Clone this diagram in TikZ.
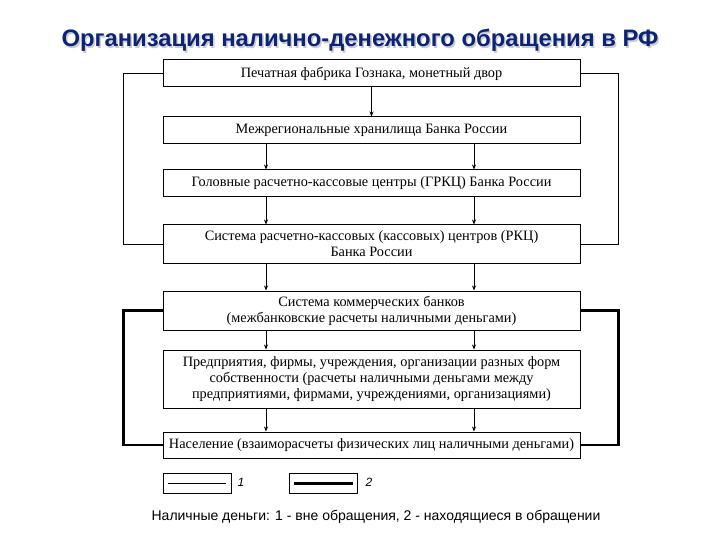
\documentclass[tikz,border=0pt]{standalone}
\usepackage{fontspec}
\setmainfont{Liberation Serif}
\setsansfont{Liberation Sans}
\usetikzlibrary{arrows.meta}
\definecolor{titleblue}{RGB}{12,36,120}
\begin{document}
\begin{tikzpicture}[x=1pt,y=-1pt,thick,
		box node/.style={draw,line width=1pt,minimum width=417pt,align=center,inner sep=2pt,font=\fontsize{14.3}{16}\selectfont},
		key node/.style={draw,line width=0.9pt,minimum width=68pt,minimum height=20pt},
		thin link/.style={line width=1pt},
		thick link/.style={line width=2.1pt},
		arr/.style={line width=0.9pt,-{Stealth[length=5pt,width=4pt]}}]
				\useasboundingbox (0,0) rectangle (720,540);
				\node[font=\sffamily\bfseries\fontsize{23.8}{27}\selectfont,text=gray!40] at (361.5,42) (shd) {Организация налично-денежного обращения в РФ};
				\node[font=\sffamily\bfseries\fontsize{23.8}{27}\selectfont,text=titleblue] at (360,40.5) (title) {Организация налично-денежного обращения в РФ};

				\node[box node,minimum height=27pt] at (371.5,73.5) (gz) {Печатная фабрика Гознака, монетный двор};
				\node[box node,minimum height=27pt] at (371.5,130.5) (mh) {Межрегиональные хранилища Банка России};
				\node[box node,minimum height=27pt] at (371.5,183.5) (grkc) {Головные расчетно-кассовые центры (ГРКЦ) Банка России};
				\node[box node,minimum height=38pt] at (371.5,244) (rkc) {Система расчетно-кассовых (кассовых) центров (РКЦ)\\Банка России};
				\node[box node,minimum height=39pt] at (371.5,310.5) (kb) {Система коммерческих банков\\(межбанковские расчеты наличными деньгами)};
				\node[box node,minimum height=58pt] at (371.5,379) (pr) {Предприятия, фирмы, учреждения, организации разных форм\\собственности (расчеты наличными деньгами между\\предприятиями, фирмами, учреждениями, организациями)};
				\node[box node,minimum height=26pt] at (371.5,445) (nas) {Население (взаиморасчеты физических лиц наличными деньгами)};

				\coordinate (cl) at (266,0);
				\coordinate (cr) at (474,0);

				\draw[arr] (gz) -- (mh);
				\foreach \from/\to in {mh/grkc,grkc/rkc,rkc/kb,kb/pr,pr/nas}
					{
					\draw[arr] (\from.south -| cl) -- (\to.north -| cl);
					\draw[arr] (\from.south -| cr) -- (\to.north -| cr);
					}

				\draw[thin link] (gz.west) -- ++(-39,0) |- (rkc.west);
				\draw[thin link] (gz.east) -- ++(38,0) |- (rkc.east);
				\draw[thick link] (kb.west) -- ++(-39,0) |- (nas.west);
				\draw[thick link] (kb.east) -- ++(38,0) |- (nas.east);

				\node[key node] at (197,483.5) (k1) {};
				\node[key node] at (323.5,483.5) (k2) {};
				\draw[thin link] ([xshift=5pt]k1.west) -- ([xshift=-5pt]k1.east);
				\draw[thick link] ([xshift=5pt]k2.west) -- ([xshift=-5pt]k2.east);
				\node[font=\sffamily\itshape\fontsize{12}{14}\selectfont] at (241,482) (n1) {1};
				\node[font=\sffamily\itshape\fontsize{12}{14}\selectfont] at (369,482) (n2) {2};

				\node[font=\sffamily\fontsize{14}{16}\selectfont] at (376,517) (cap) {Наличные деньги: 1 - вне обращения, 2 - находящиеся в обращении};
			\end{tikzpicture}
\end{document}
